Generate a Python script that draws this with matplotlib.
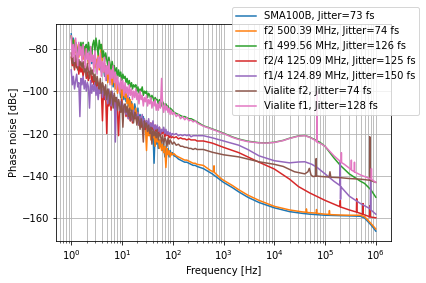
import matplotlib
matplotlib.use("Agg")
import matplotlib.pyplot as plt

# shared frequency grid of the noisy low-offset part [Hz]
F_LOW = [1.0, 1.05, 1.1, 1.16, 1.22, 1.28, 1.34, 1.41, 1.48, 1.55,
         1.63, 1.71, 1.8, 1.89, 1.98, 2.08, 2.18, 2.29, 2.41, 2.53,
         2.65, 2.79, 2.93, 3.07, 3.23, 3.39, 3.56, 3.73, 3.92, 4.12,
         4.32, 4.54, 4.76, 5.0, 5.25, 5.52, 5.79, 6.08, 6.39, 6.7,
         7.04, 7.39, 7.76, 8.15, 8.56, 8.99, 9.43, 9.9, 10.4, 10.9,
         11.5, 12.0, 12.6, 13.3, 13.9, 14.6, 15.4, 16.1, 16.9, 17.8,
         18.7, 19.6, 20.6, 21.6, 22.7, 23.8, 25.0, 26.3, 27.6, 29.0,
         30.4, 31.9, 33.5, 35.2, 37.0, 38.8, 40.8, 42.8, 44.9, 47.2,
         49.5, 52.0, 54.6, 57.3, 60.2, 63.2, 66.4, 69.7, 73.2, 76.9,
         80.7, 84.7, 89.0, 93.4, 98.1, 106, 117, 129, 142, 156,
         172, 189, 208, 229, 252, 277, 300]

labels = ["SMA100B, Jitter=73 fs",
          "f2 500.39 MHz, Jitter=74 fs",
          "f1 499.56 MHz, Jitter=126 fs",
          "f2/4 125.09 MHz, Jitter=125 fs",
          "f1/4 124.89 MHz, Jitter=150 fs",
          "Vialite f2, Jitter=74 fs",
          "Vialite f1, Jitter=128 fs"]

# SMA100B
blue_low = [-73, -79, -75, -81, -77, -80, -83, -78, -82, -79,
            -81, -84, -79, -85, -82, -80, -86, -83, -81, -87,
            -84, -88, -83, -86, -90, -85, -88, -84, -91, -87,
            -89, -93, -88, -95, -90, -92, -96, -91, -94, -98,
            -93, -97, -95, -100, -96, -99, -103, -97, -101, -104,
            -100, -105, -102, -107, -103, -109, -105, -108, -111, -106,
            -109, -113, -108, -115, -111, -114, -117, -112, -118, -115,
            -114, -119, -116, -121, -117, -122, -119, -134, -120, -125,
            -121, -127, -123, -126, -124, -128, -125, -131, -126, -129,
            -127, -131, -128, -130, -129, -130.5, -131, -132, -132.5, -133,
            -133.5, -133.5, -134, -134.5, -135, -135, -135.5]
blue_hf = [400, 600, 1000, 1500, 2000, 3000, 5000, 1e4, 2e4, 3.5e4,
           5e4, 1e5, 2e5, 3e5, 5e5, 6e5, 7e5, 8e5, 9e5, 1e6]
blue_hv = [-136.5, -139, -143, -145.5, -147.5, -150, -152.5, -155, -156.8, -157.6,
           -158, -158.5, -158.7, -158.8, -159, -159.8, -161.5, -163, -164.5, -166]

# f2 500.39 MHz
orange_low = [-74, -77, -80, -76, -82, -78, -81, -84, -79, -83,
              -80, -85, -82, -79, -84, -81, -87, -83, -85, -82,
              -86, -84, -89, -85, -87, -83, -90, -86, -78, -88,
              -91, -87, -93, -89, -96, -91, -94, -90, -97, -93,
              -95, -99, -94, -101, -97, -100, -98, -104, -99, -102,
              -103, -101, -106, -103, -108, -104, -110, -106, -109, -112,
              -108, -114, -110, -116, -112, -115, -113, -118, -114, -117,
              -128, -116, -121, -118, -123, -119, -122, -120, -126, -121,
              -124, -122, -127, -123, -128, -125, -129, -126, -136, -127,
              -130, -128, -131, -129, -130, -129.5, -130.5, -131, -131.5, -132,
              -132.5, -132.5, -133, -133.5, -134, -134, -134.5]
orange_hf = [400, 560, 640, 650, 660, 870, 1000, 1500, 2000, 3000,
             5000, 1e4, 2e4, 3.5e4, 4.2e4, 4.3e4, 4.4e4, 6.7e4, 6.8e4, 6.9e4,
             1e5, 1.2e5, 1.22e5, 1.24e5, 2e5, 3e5, 5e5, 6e5, 7e5, 8e5, 9e5, 1e6]
orange_hv = [-135, -137.5, -138, -135.2, -138.3, -141, -142, -144.5, -146.5, -149,
             -151.5, -154.3, -156, -156.9, -157.1, -155.5, -157.2, -157.5, -155.8, -157.6,
             -158, -158.1, -156.3, -158.2, -158.4, -158.5, -158.5, -159.2, -160.8, -162.3,
             -163.7, -165]

# f1 499.56 MHz
green_low = [-74, -79, -76, -82, -77, -80, -84, -78, -81, -77,
             -80, -77, -83, -79, -78, -82, -77, -81, -79, -84,
             -78, -76, -81, -75, -79, -83, -76, -80, -78, -84,
             -81, -86, -82, -85, -88, -84, -87, -90, -86, -89,
             -88, -92, -89, -94, -90, -93, -91, -95, -92, -94,
             -93, -96, -94, -97, -95, -98, -96, -99, -97, -98,
             -97, -100, -98, -101, -99, -100, -98, -102, -100, -101,
             -100, -103, -101, -102, -104, -102, -103, -105, -103, -104,
             -104, -106, -104, -105, -107, -105, -106, -108, -106, -107,
             -107, -109, -108, -108.5, -109, -110, -110.5, -111, -111.5, -112,
             -112, -112.5, -113, -113, -113.5, -114, -114.5]
green_hf = [400, 600, 1000, 1500, 2000, 3000, 5000, 7000, 1e4, 1.5e4,
            2e4, 3e4, 4e4, 5e4, 6.2e4, 8e4, 1e5, 1.5e5, 2e5, 3e5,
            4e5, 5e5, 6e5, 8e5, 1e6]
green_hv = [-116.3, -117.8, -119.8, -121.6, -122.6, -123.6, -124.3, -124.4, -124.1, -123.2,
            -122.2, -121.1, -120.9, -121.7, -122.8, -124.2, -126, -131.5, -135, -139,
            -141, -142.5, -143.5, -146.5, -150]

# f2/4 125.09 MHz
red_low = [-84, -88, -86, -90, -85, -89, -87, -92, -88, -91,
           -89, -93, -90, -88, -94, -91, -95, -92, -90, -96,
           -93, -97, -94, -99, -95, -98, -101, -96, -100, -114,
           -99, -104, -101, -120, -103, -107, -102, -109, -104, -106,
           -103, -108, -105, -110, -121, -106, -109, -104, -111, -107,
           -109, -112, -108, -113, -110, -114, -111, -115, -112, -113,
           -111, -115, -113, -116, -112, -117, -114, -116, -115, -118,
           -114, -117, -116, -119, -115, -118, -117, -120, -116, -119,
           -118, -120, -117, -121, -119, -120, -118, -121.5, -120, -121,
           -120.5, -122, -121, -122, -121.5, -122, -121.5, -122.5, -122, -122.5,
           -122.5, -123, -122.5, -123, -123, -123, -123.5]
red_hf = [400, 600, 1000, 2000, 3000, 5000, 1e4, 1.5e4, 2e4, 3e4,
          5e4, 1e5, 1.98e5, 2e5, 2.02e5, 3e5, 4.15e5, 4.2e5, 4.25e5, 5.55e5,
          5.6e5, 5.65e5, 7.55e5, 7.6e5, 7.65e5, 1e6]
red_hv = [-123.5, -124.5, -126.5, -129, -131, -133.5, -136.7, -139.5, -141.5, -145,
          -148, -151.5, -154.5, -151.5, -154.6, -156, -157, -150.7, -157.1, -158,
          -153, -158.1, -159.2, -154, -159.3, -159.7]

# f1/4 124.89 MHz
purple_low = [-90, -97, -93, -99, -95, -92, -98, -96, -112, -94,
              -97, -93, -99, -95, -100, -96, -98, -108, -95, -101,
              -97, -100, -96, -102, -98, -104, -99, -101, -97, -103,
              -100, -98, -104, -101, -106, -99, -103, -107, -100, -105,
              -102, -124, -103, -106, -104, -109, -105, -108, -106, -110,
              -107, -111, -108, -113, -109, -111, -110, -114, -109, -112,
              -111, -114, -110, -116, -112, -115, -111, -117, -113, -116,
              -114, -117, -113, -118, -115, -117, -114, -119, -116, -118,
              -116, -119, -117, -120, -118, -119, -117, -120, -118, -120.5,
              -119, -120.5, -119.5, -121, -120, -120.5, -120, -121, -120.5, -121,
              -120.5, -121, -120.5, -121.5, -121, -121, -121]
purple_hf = [400, 600, 1000, 2000, 3000, 5000, 1e4, 2e4, 3e4, 4e4,
             5.5e4, 7e4, 1e5, 1.5e5, 1.97e5, 2e5, 2.02e5, 2.04e5, 3e5, 5e5,
             7.8e5, 7.9e5, 8e5, 1e6]
purple_hv = [-121, -122, -123.5, -125.5, -127.5, -130.5, -132.8, -133.8, -133.4, -133.3,
             -134.5, -136, -139, -142.5, -144.5, -133, -151, -145, -149.5, -153,
             -155.5, -140, -156, -158]

# Vialite f2
brown_low = [-82, -87, -84, -89, -83, -86, -90, -85, -88, -86,
             -89, -86, -91, -88, -93, -87, -90, -94, -89, -92,
             -90, -95, -92, -97, -93, -96, -99, -94, -101, -96,
             -98, -102, -97, -104, -99, -101, -106, -100, -103, -108,
             -101, -105, -103, -109, -104, -107, -110, -105, -117, -107,
             -106, -110, -107, -112, -108, -114, -109, -111, -115, -110,
             -111, -116, -112, -114, -118, -113, -116, -124, -114, -117,
             -115, -119, -116, -120, -117, -125, -118, -121, -119, -122,
             -118, -123, -120, -121, -124, -121, -125, -122, -123, -126,
             -122, -125, -123, -124, -125, -124, -125.5, -125, -126, -126,
             -126.5, -126.5, -127, -127, -127.5, -127, -127.5]
brown_hf = [400, 600, 1000, 2000, 3000, 5000, 1e4, 1.5e4, 2.5e4, 4e4,
            4.6e4, 4.9e4, 5.3e4, 5.8e4, 6.65e4, 6.7e4, 6.75e4, 8e4, 1.2e5, 1.25e5,
            1.3e5, 2e5, 3e5, 5e5, 7.55e5, 7.6e5, 7.65e5, 1e6]
brown_hv = [-127.5, -128.8, -130, -131, -132, -133.3, -134.5, -135.5, -138, -139,
            -138, -136.4, -139.5, -140.3, -140, -131.8, -140, -140.2, -140.5, -138,
            -140.6, -140.8, -141.2, -141.5, -142, -121.5, -142, -143]

# Vialite f1
pink_low = [-74, -84, -78, -86, -75, -82, -88, -77, -83, -79,
            -86, -78, -84, -89, -80, -85, -82, -90, -79, -86,
            -83, -91, -81, -87, -92, -84, -89, -82, -93, -86,
            -91, -84, -95, -88, -92, -86, -97, -90, -94, -88,
            -96, -91, -99, -93, -97, -101, -94, -99, -95, -102,
            -96, -101, -98, -103, -97, -102, -99, -104, -100, -103,
            -99, -104, -101, -106, -100, -104, -102, -107, -103, -105,
            -102, -107, -104, -106, -103, -108, -105, -107, -104, -109,
            -106, -109, -105, -108, -94, -107, -110, -106, -109, -107,
            -110, -108, -111, -109, -111, -110, -112, -111, -113, -112,
            -113.5, -112.5, -114, -113.5, -114.5, -114, -115]
pink_hf = [400, 600, 1000, 1500, 2000, 3000, 5000, 7000, 1e4, 1.5e4,
           2e4, 3e4, 4e4, 5e4, 6.2e4, 6.85e4, 6.9e4, 6.95e4, 8e4, 1e5,
           1.5e5, 2.08e5, 2.1e5, 2.12e5, 2.4e5, 3.28e5, 3.3e5, 3.32e5, 3.78e5, 3.8e5,
           3.82e5, 5e5, 8.15e5, 8.2e5, 8.25e5, 1e6]
pink_hv = [-116.5, -118, -120, -121.8, -122.8, -123.8, -124.4, -124.5, -124.2, -123.3,
           -122.3, -121.2, -121, -121.8, -123, -123.8, -100, -124, -124.6, -126,
           -130.5, -133.5, -129, -133.7, -134.5, -137, -132.5, -137.2, -138, -133.5,
           -138.1, -139.5, -141.5, -136.5, -141.6, -143]

series = [(blue_low, blue_hf, blue_hv),
          (orange_low, orange_hf, orange_hv),
          (green_low, green_hf, green_hv),
          (red_low, red_hf, red_hv),
          (purple_low, purple_hf, purple_hv),
          (brown_low, brown_hf, brown_hv),
          (pink_low, pink_hf, pink_hv)]

fig = plt.figure(figsize=(426 / 72, 283 / 72), dpi=72)
ax = fig.add_axes([0.1315, 0.1484, 0.7864, 0.7668])

for (low, hf, hv), lab in zip(series, labels):
    ax.semilogx(F_LOW + hf, low + hv, label=lab)

ax.grid(True, which='both')
ax.set_xlabel('Frequency [Hz]')
ax.set_ylabel('Phase noise [dBc]')
ax.legend(loc='upper right', bbox_to_anchor=(1.084, 1.078), borderaxespad=0)

fig.savefig('out.png', dpi=72)
